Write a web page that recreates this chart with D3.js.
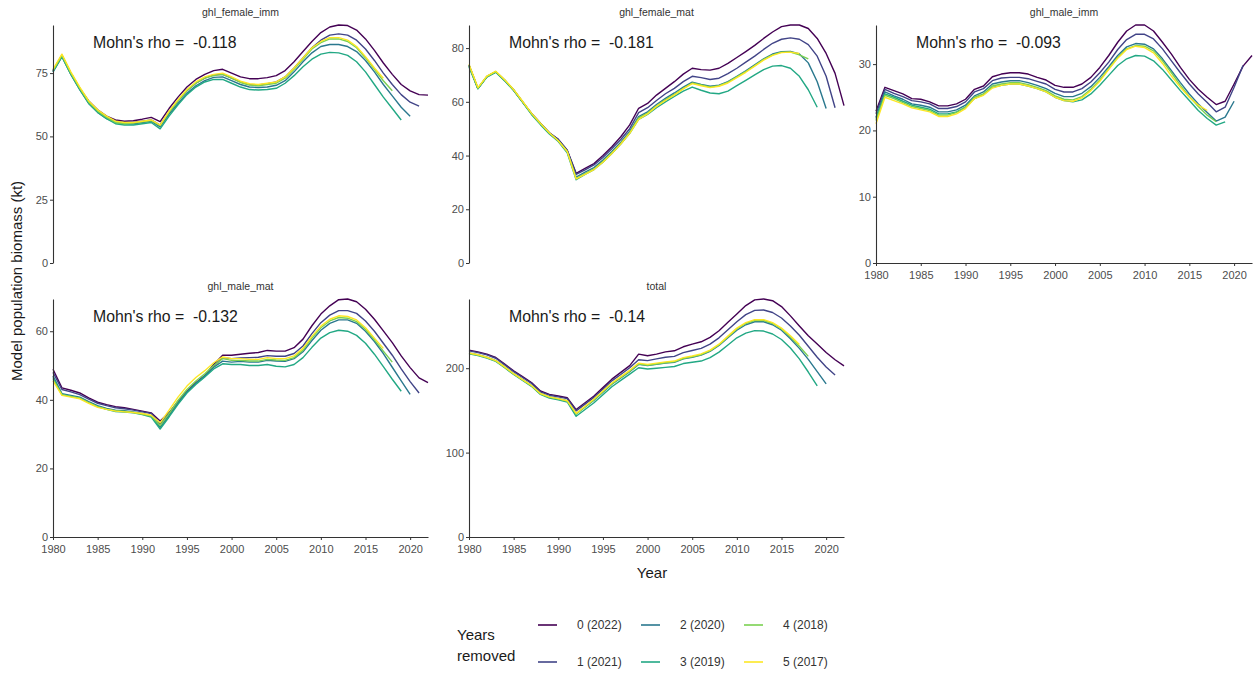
<!DOCTYPE html>
<html><head><meta charset="utf-8">
<script src="https://cdn.jsdelivr.net/npm/d3@7"></script>
<style>body{margin:0;background:#fff;} text{font-family:"Liberation Sans", Arial, sans-serif;}</style>
</head><body><svg id="c" width="1258" height="677"></svg>
<script>
const years = [1980,1981,1982,1983,1984,1985,1986,1987,1988,1989,1990,1991,1992,1993,1994,1995,1996,1997,1998,1999,2000,2001,2002,2003,2004,2005,2006,2007,2008,2009,2010,2011,2012,2013,2014,2015,2016,2017,2018,2019,2020,2021,2022];
const xTicks = [1980,1985,1990,1995,2000,2005,2010,2015,2020];
const runLabels = ["0 (2022)","1 (2021)","2 (2020)","3 (2019)","4 (2018)","5 (2017)"];
const panelNames = ["ghl_female_imm","ghl_female_mat","ghl_male_imm","ghl_male_mat","total"];
const rhoValues = ["-0.118","-0.181","-0.093","-0.132","-0.14"];
const yTicksFI = [0,25,50,75];
const yTicksFM = [0,20,40,60,80];
const yTicksMI = [0,10,20,30];
const yTicksMM = [0,20,40,60];
const yTicksT = [0,100,200];

// ghl_female_imm
const fiR0 = [76,82,75,69,64,60.5,58,56.5,56,56.2,56.8,57.5,55.8,61,65.5,69.5,72.5,74.5,76,76.5,75,73.5,72.8,72.8,73.2,74,76,79.5,83.5,87.5,91,93.2,94,93.8,92,88.5,84,79,74.5,70.5,68,66.5,66.3];
const fiR1 = [76,82,75,69,63.5,60,57.5,56,55.5,55.5,56,56.5,54.5,59.5,64,68,71,73,74.3,74.5,73,71.5,70.5,70.3,70.8,71.5,73.5,77,81,85,88,90,90.5,90,88,84.5,80,75,70.5,66.5,63.5,62];
const fiR2 = [75.5,81.5,74.5,68.5,63,59.5,57,55.5,55,55,55.5,56,53.8,58.8,63,67,70,72,73.3,73.5,72,70.5,69.5,69.3,69.5,70.2,72,75.5,79.5,83,85.5,86.3,86.3,85.5,83.5,80,75.5,70.5,66,61.5,58];
const fiR3 = [75.5,81.5,74.5,68.5,63,59.5,57,55,54.5,54.5,55,55.5,53,58,62.5,66.5,69.5,71.5,72.5,72.5,71,69.5,68.5,68.3,68.5,69,71,74,77.5,80.5,82.5,83.2,83,82,79.5,75.5,70.5,65.5,61,56.5];
const fiR4 = [76,82,75,69,63.5,60,57.5,55.5,55,55.3,55.8,56.3,54.3,59.5,64,68,71,73,74,74.5,73,71.3,70.3,70,70.5,71,73,76.5,80.5,84.5,87,88.5,88.5,87.5,85,81,76.5,72,68];
const fiR5 = [76.5,82.5,75.5,69.5,64,60.5,58,56,55.5,55.5,56,56.5,54.5,60,64.5,68.5,71.5,73.5,74.5,75,73.5,71.8,70.8,70.5,71,71.5,73.5,77,81,85,87.5,89,89,88,85.5,81.5,77,73];

// ghl_female_mat
const fmR0 = [73.7,65,69.4,71.2,68,64.4,60,55.7,52,48.5,46,42,33.4,35.2,37,40,43.3,47,51.4,57.6,59.4,62.5,65,67.5,70.3,72.5,72,71.8,72.5,74.3,76.5,78.7,81,83.6,86,88,88.6,88.6,87.3,83.6,78,70.6,58.6];
const fmR1 = [73.5,65,69.4,71.2,68,64.4,60,55.7,52,48.5,46,42,33,34.7,36.5,39.3,42.5,46,50,56,57.8,60.5,63,65,67.5,69.5,69,68.3,68.8,70.5,72.5,74.8,77,79.5,81.8,83.3,83.8,83.3,81.3,77,69.5,57.8];
const fmR2 = [73.5,65,69.4,71.2,68,64.4,60,55.5,51.8,48.3,45.5,41.5,32,33.8,35.5,38.3,41.5,45,49,54.5,56.3,59,61.3,63.3,65.5,67.3,66.5,65.8,66.2,67.5,69.5,71.5,73.8,76,77.8,78.7,78.8,77.8,74.5,67.5,57.5];
const fmR3 = [73,64.8,69.2,71,67.8,64.2,59.8,55.3,51.5,48,45.2,41,31,33,34.8,37.5,40.8,44.3,48.3,53.5,55.3,57.8,60,62,64,65.5,64.3,63.3,63,64,66,68,70,72,73.3,73.5,72.5,69.5,64.5,58];
const fmR4 = [73.5,65,69.4,71.2,68,64.4,60,55.5,51.8,48.3,45.5,41.5,31.5,33.3,35,37.8,41,44.5,48.5,54,55.8,58.5,60.8,62.8,65,67,66.3,65.5,66,67.3,69.3,71.3,73.5,75.8,77.5,78.5,78.5,77.5,76];
const fmR5 = [74,65.3,69.6,71.4,68.2,64.6,60.2,55.8,52,48.5,45.5,41.5,31.3,33,34.8,37.5,40.8,44.3,48.3,53.5,55.5,58.3,60.5,62.5,64.8,66.8,66,65.3,65.8,67,69,71,73.3,75.5,77.3,78.3,78.5,78];

// ghl_male_imm
const miR0 = [22.9,26.5,26,25.5,24.8,24.7,24.3,23.7,23.7,24,24.7,26.2,26.7,28.1,28.5,28.7,28.7,28.5,28,27.6,26.8,26.5,26.5,27,28,29.5,31.3,33.3,35,35.9,35.9,35,33.3,31.5,29.5,27.7,26.2,25,23.9,24.4,27,29.7,31.3];
const miR1 = [22.5,26.2,25.6,25.1,24.5,24.3,24,23.3,23.3,23.6,24.3,25.8,26.3,27.5,27.9,28,28,27.8,27.4,27,26.2,25.8,25.8,26.3,27.3,28.7,30.3,32.2,33.7,34.5,34.5,33.8,32.3,30.5,28.7,27,25.5,24.2,22.8,23.5,26.5,29.8];
const miR2 = [22,25.8,25.2,24.7,24,23.8,23.5,22.8,22.8,23.1,23.8,25.2,25.8,27,27.3,27.5,27.5,27.2,26.8,26.3,25.6,25.1,25.1,25.6,26.6,28,29.6,31.3,32.6,33.1,33,32.3,30.8,29,27.2,25.5,24,22.7,21.4,22,24.4];
const miR3 = [21.8,25.5,25,24.4,23.8,23.5,23.2,22.5,22.5,22.8,23.5,24.8,25.4,26.5,26.8,27,27,26.7,26.3,25.8,25,24.5,24.3,24.6,25.5,26.8,28.3,29.8,30.8,31.3,31.2,30.5,29.2,27.6,26,24.5,23,21.8,20.8,21.3];
const miR4 = [21.5,25.3,24.8,24.2,23.6,23.3,23,22.3,22.3,22.7,23.5,25,25.5,26.7,27,27.2,27.2,26.9,26.5,26,25.2,24.7,24.6,25.1,26.2,27.6,29.3,31,32.3,32.8,32.7,32,30.5,28.7,26.8,25.1,23.6,22.3,21.3];
const miR5 = [21,25,24.5,24,23.4,23.1,22.8,22.1,22.1,22.5,23.3,24.8,25.3,26.4,26.8,27,27,26.7,26.3,25.8,25,24.5,24.4,24.9,26,27.4,29.2,30.9,32.2,32.7,32.5,31.7,30.1,28.2,26.5,25,23.8,23];

// ghl_male_mat
const mmR0 = [48.9,43.5,42.8,42,40.6,39.3,38.6,38,37.7,37.2,36.7,36.2,33.8,36.2,39.6,42.5,45,47.1,50.3,53,53,53.3,53.6,53.8,54.4,54.2,54.2,55.2,57.7,61.6,65,67.4,69.2,69.4,68.6,66.4,63.5,60.1,56.7,52.8,49.4,46.4,45];
const mmR1 = [48,43,42.3,41.5,40.2,39,38.3,37.7,37.4,37,36.5,36,33,36,39.3,42.3,44.8,46.8,49.8,52.3,52,52.2,52.3,52.4,52.9,52.7,52.7,53.5,55.7,59.3,62.5,64.7,66,66,65.2,63,60,56.5,53,49,45.3,42];
const mmR2 = [47,41.8,41.3,40.8,39.5,38.3,37.5,37,36.8,36.5,36,35.3,32,35.5,39,42.3,44.8,47,49.5,51.3,51,51.2,51,51,51.5,51.3,51.2,52,54,57.3,60.3,62.3,63.3,63.3,62.3,60,57,53.5,49.5,45.5,41.6];
const mmR3 = [46.5,41.5,41,40.5,39.2,38,37.2,36.6,36.4,36.2,35.7,35,31.5,35,38.7,42,44.5,46.7,49,50.5,50.3,50.3,50,50,50.3,49.8,49.6,50.3,52.3,55.3,58,59.6,60.3,60,58.8,56.5,53.3,49.7,46,42.5];
const mmR4 = [46,41.5,41,40.5,39.2,38,37.3,36.8,36.6,36.3,35.8,35.3,32.5,36,39.8,43,45.5,47.6,50,52,51.5,51.5,51.3,51.3,51.8,51.6,51.5,52.3,54.5,58,61,63,64,63.8,62.8,60.5,57.5,54.2,51];
const mmR5 = [45.5,41.3,40.8,40.3,39,37.8,37.2,36.7,36.5,36.3,36,35.5,33.3,37,40.8,44,46.5,48.5,50.8,52.5,52,52,51.8,51.8,52.3,52,52,52.8,55,58.5,61.5,63.5,64.5,64.3,63.3,61,58,55];

// total
const tR0 = [221.4,219.4,216.7,212.7,204.8,196.8,190,183,173,169,167,165,151,159,167,177,187,195,203,216.7,214.7,216.7,219.4,220.6,225.4,228.6,231.3,236.5,244.4,254.4,264.3,274.2,281,282,280,273,262,250,238.5,228.6,218.7,210,202.8];
const tR1 = [220.5,218.5,215.8,211.8,204,196,189,182,172,168,166,164,149.5,157.5,165.5,175,185,192.5,200.5,210,209,211,213,214,218.5,221,223.5,228.5,236,245.5,255,263.5,268.5,269,266,259.5,250,239,226,213,201.5,192];
const tR2 = [218,216,213,209,201.5,193.5,186.5,179.5,170,166,164,161.5,146,154,162,171.5,181,188.5,196,204.5,203,204.5,206,207,211,213,215.5,220,227,236,245,251.5,255,255,251.5,245,235,223.5,210.5,196,181.5];
const tR3 = [217,215,212,208,200.5,192.5,185.5,178.5,169,164.5,162.5,160,143,151,159,168.5,178,185.5,193,200.5,199,200,201,202,205.5,207,208.5,212.5,219,227.5,236,241.5,244.5,244,240.5,234,224,211,195.5,179];
const tR4 = [217.5,215.5,212.5,208.5,201,193,186,179,169.5,165.5,163.5,161,145.5,154,162.5,172,181.5,189,196.5,205,203.5,205,206.5,207.5,211.5,213.5,216,220.5,227.5,237,246.5,253,256.5,256.5,253,246.5,237,226,214];
const tR5 = [218,216,213,209,201.5,193.5,186.5,179.5,170,166,164,161.5,146.5,155,163.5,173,182.5,190,197.5,206,204.5,206,207.5,208.5,212.5,214.5,217,221.5,228.5,238,247.5,254,257.5,257.5,254,247.5,238.5,228];

const colors = ["#440154","#414487","#2A788E","#22A884","#7AD151","#FDE725"];

const panels = [
  {name: panelNames[0], rho: rhoValues[0], ticks: yTicksFI, runs: [fiR0,fiR1,fiR2,fiR3,fiR4,fiR5], col: 0, row: 0, xAxis: false},
  {name: panelNames[1], rho: rhoValues[1], ticks: yTicksFM, runs: [fmR0,fmR1,fmR2,fmR3,fmR4,fmR5], col: 1, row: 0, xAxis: false},
  {name: panelNames[2], rho: rhoValues[2], ticks: yTicksMI, runs: [miR0,miR1,miR2,miR3,miR4,miR5], col: 2, row: 0, xAxis: true},
  {name: panelNames[3], rho: rhoValues[3], ticks: yTicksMM, runs: [mmR0,mmR1,mmR2,mmR3,mmR4,mmR5], col: 0, row: 1, xAxis: true},
  {name: panelNames[4], rho: rhoValues[4], ticks: yTicksT, runs: [tR0,tR1,tR2,tR3,tR4,tR5], col: 1, row: 1, xAxis: true}
];

const colX = [[53,428],[469,844],[876,1252]];
const rowY = [[25,263],[299,537]];

const svg = d3.select("#c");

panels.forEach(p => {
  const [x0,x1] = colX[p.col];
  const [y0,y1] = rowY[p.row];
  const x = d3.scaleLinear().domain([1980,2022]).range([x0,x1]);
  const ymax = d3.max(p.runs, r => d3.max(r));
  const y = d3.scaleLinear().domain([0, ymax]).range([y1,y0]);
  const g = svg.append("g");

  g.append("text").attr("x",(x0+x1)/2).attr("y",y0-9).attr("text-anchor","middle")
    .attr("font-size","10.5px").attr("fill","#333").text(p.name);

  const line = d3.line().x((d,i)=>x(years[i])).y(d=>y(d)).curve(d3.curveLinear);
  p.runs.forEach((r,k) => {
    g.append("path").attr("d",line(r)).attr("fill","none")
     .attr("stroke",colors[k]).attr("stroke-width",1.4).attr("stroke-linejoin","round");
  });

  const ya = g.append("g").attr("transform",`translate(${x0},0)`)
    .call(d3.axisLeft(y).tickValues(p.ticks).tickSize(3).tickSizeOuter(0).tickPadding(2));
  ya.select(".domain").attr("stroke","#333").attr("stroke-width",1.1);
  ya.selectAll(".tick line").attr("stroke","#333").attr("stroke-width",1);
  ya.selectAll(".tick text").attr("fill","#4D4D4D").attr("font-size","11px")
    .attr("font-family","Liberation Sans, Arial, sans-serif");

  if (p.xAxis) {
    const xa = g.append("g").attr("transform",`translate(0,${y1})`)
      .call(d3.axisBottom(x).tickValues(xTicks).tickFormat(d3.format("d")).tickSize(3).tickSizeOuter(0).tickPadding(5));
    xa.select(".domain").attr("stroke","#333").attr("stroke-width",1.1);
    xa.selectAll(".tick line").attr("stroke","#333").attr("stroke-width",1);
    xa.selectAll(".tick text").attr("fill","#4D4D4D").attr("font-size","11px")
      .attr("font-family","Liberation Sans, Arial, sans-serif");
  }

  g.append("text").attr("x",x0+40).attr("y",y0+23).attr("font-size","15.8px")
    .attr("fill","#1a1a1a").attr("xml:space","preserve").style("white-space","pre")
    .text("Mohn's rho =  " + p.rho);
});

svg.append("text").attr("transform","translate(22,281) rotate(-90)").attr("text-anchor","middle")
  .attr("font-size","15px").attr("fill","#1a1a1a").text("Model population biomass (kt)");
svg.append("text").attr("x",652).attr("y",578).attr("text-anchor","middle")
  .attr("font-size","15px").attr("fill","#1a1a1a").text("Year");

const lg = svg.append("g");
lg.append("text").attr("x",457).attr("y",640).attr("font-size","15px").attr("fill","#1a1a1a").text("Years");
lg.append("text").attr("x",457).attr("y",661).attr("font-size","15px").attr("fill","#1a1a1a").text("removed");
const legCols = [538, 641, 744];
const legRows = [625, 662];
runLabels.forEach((lab,k) => {
  const c = Math.floor(k/2), r = k%2;
  const lx = legCols[c], ly = legRows[r];
  lg.append("line").attr("x1",lx).attr("x2",lx+19).attr("y1",ly).attr("y2",ly)
    .attr("stroke",colors[k]).attr("stroke-width",1.6);
  lg.append("text").attr("x",lx+39).attr("y",ly+4).attr("font-size","12px").attr("fill","#333").text(lab);
});
</script>
</body></html>
